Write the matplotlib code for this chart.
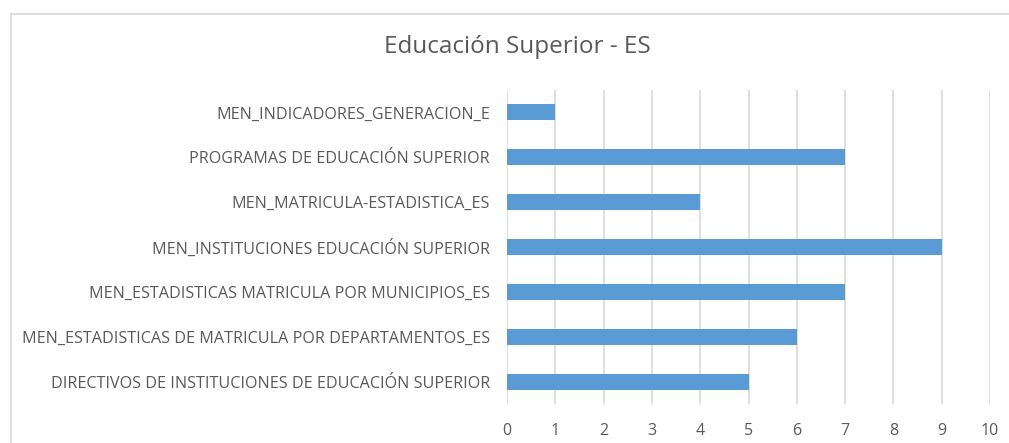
import matplotlib.pyplot as plt
from matplotlib.lines import Line2D

# Datos
categorias = [
    'DIRECTIVOS DE INSTITUCIONES DE EDUCACIÓN SUPERIOR',
    'MEN_ESTADISTICAS DE MATRICULA POR DEPARTAMENTOS_ES',
    'MEN_ESTADISTICAS MATRICULA POR MUNICIPIOS_ES',
    'MEN_INSTITUCIONES EDUCACIÓN SUPERIOR',
    'MEN_MATRICULA-ESTADISTICA_ES',
    'PROGRAMAS DE EDUCACIÓN SUPERIOR',
    'MEN_INDICADORES_GENERACION_E',
]
valores = [5, 6, 7, 9, 4, 7, 1]
ticks_x = list(range(0, 11))

plt.rcParams['font.family'] = ['Open Sans', 'DejaVu Sans']
gris = '#595959'

fig = plt.figure(figsize=(10.09, 4.43), dpi=100)
ax = fig.add_axes([0.5025, 0.088, 0.4787, 0.709])

ax.barh(categorias, valores, height=0.36, color='#5B9BD5', zorder=3)
ax.set_xlim(0, 10)
ax.set_ylim(-0.5, len(categorias) - 0.5)
ax.set_xticks(ticks_x)
ax.grid(axis='x', color='#D9D9D9', linewidth=1.2, zorder=0)
for s in ax.spines.values():
    s.set_visible(False)
ax.tick_params(axis='both', length=0, colors=gris)
ax.tick_params(axis='y', pad=12.4, labelsize=11.6)
ax.tick_params(axis='x', pad=14, labelsize=11.5)

fig.text(0.5124, 0.894, 'Educación Superior - ES', ha='center', va='center',
         fontsize=17.5, color=gris)

# marco del area del grafico (solo izquierda y arriba visibles)
fig.add_artist(Line2D([0.011, 0.011], [0.0, 0.968], color='#D9D9D9', lw=1.2,
                      transform=fig.transFigure))
fig.add_artist(Line2D([0.011, 1.0], [0.968, 0.968], color='#D9D9D9', lw=1.2,
                      transform=fig.transFigure))

fig.savefig('out.png', dpi=100)
